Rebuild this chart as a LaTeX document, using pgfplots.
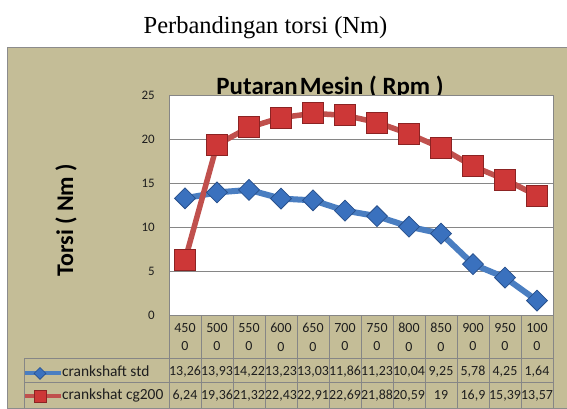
\documentclass[border=0pt]{standalone}
\usepackage{pgfplots}
\pgfplotsset{compat=1.18}
\usepackage{fontspec}
\setmainfont{Carlito}
\newfontfamily\seriffont{Liberation Serif}
\definecolor{khaki}{RGB}{196,189,151}
\definecolor{gridgray}{RGB}{134,134,134}
\definecolor{framegray}{RGB}{140,140,140}
\definecolor{bline}{RGB}{74,126,193}
\definecolor{bmark}{RGB}{58,113,190}
\definecolor{bmarkd}{RGB}{40,80,140}
\definecolor{rline}{RGB}{192,80,77}
\definecolor{rmark}{RGB}{205,55,55}
\definecolor{rmarkd}{RGB}{140,35,35}
\definecolor{txt}{RGB}{30,30,30}
\begin{document}
\begin{tikzpicture}
\begin{scope}[x=1bp,y=1bp]
\path[use as bounding box] (0,0) rectangle (567,403);
\fill[white] (0,0) rectangle (567,403);
\filldraw[fill=khaki, draw=framegray, line width=1bp] (7,-5) rectangle (580,356);
\node[anchor=base, font=\seriffont\fontsize{24.6}{28}\selectfont, inner sep=0pt] at (265.5,370) {Perbandingan torsi (Nm)};
\node[anchor=base, font=\bfseries\fontsize{25}{28}\selectfont, inner sep=0pt] at (330,309) {Putaran\hspace{2bp}Mesin ( Rpm )};
\node[rotate=90, anchor=center, font=\bfseries\fontsize{24}{28}\selectfont, inner sep=0pt] at (66,183) {Torsi ( Nm )};
\end{scope}
\begin{axis}[
  at={(169bp,88bp)}, anchor=south west,
  scale only axis, width=384bp, height=220bp,
  xmin=-0.5, xmax=11.5, ymin=0, ymax=25,
  xtick={0,...,11},
  xticklabels={{450\\0},{500\\0},{550\\0},{600\\0},{650\\0},{700\\0},{750\\0},{800\\0},{850\\0},{900\\0},{950\\0},{100\\0}},
  ytick={0,5,...,25},
  ymajorgrids,
  grid style={draw=gridgray, line width=0.8bp},
  major tick length=0pt,
  axis line style={draw=gridgray, line width=0.8bp},
  axis background/.style={fill=white},
  clip=false,
  /pgf/number format/assume math mode=true,
  yticklabel style={font=\fontsize{13}{15}\selectfont, text=txt, inner sep=0pt, anchor=east, xshift=-14bp},
  xticklabel style={font=\fontsize{14}{18.5}\selectfont, text=txt, align=center, inner sep=0pt, anchor=north, yshift=-8bp},
  legend image code/.code={\draw[mark repeat=2,mark phase=2,#1] plot coordinates {(0bp,0bp) (16bp,0bp) (37bp,0bp)};},
  legend style={draw=none, fill=none, inner sep=0pt, outer sep=0pt,
    at={(axis description cs:-0.3828,-0.236)}, anchor=north west,
    row sep=9.5bp, column sep=-1bp,
    font=\fontsize{15.5}{17}\selectfont, text=txt,
    nodes={inner sep=0pt, text height=10bp, text depth=3bp}},
  legend cell align=left,
]
\addplot[bline, line width=6bp, mark=square*, mark size=7.4bp,
  mark options={rotate=45, fill=bmark, draw=bmarkd, line width=0.8bp, solid}, forget plot]
  coordinates {(0,13.26) (1,13.93) (2,14.22) (3,13.23) (4,13.03) (5,11.86) (6,11.23) (7,10.04) (8,9.25) (9,5.78) (10,4.25) (11,1.64)};
\addplot[rline, line width=5.5bp, mark=square*, mark size=10.5bp,
  mark options={fill=rmark, draw=rmarkd, line width=0.8bp, solid}, forget plot]
  coordinates {(0,6.24) (1,19.36) (2,21.32) (3,22.43) (4,22.91) (5,22.69) (6,21.88) (7,20.59) (8,19) (9,16.9) (10,15.39) (11,13.57)};
\addlegendimage{bline, line width=4bp, mark=square*, mark size=4.2bp, mark options={rotate=45, fill=bmark, draw=bmarkd, line width=0.6bp, solid}}
\addlegendentry{crankshaft std}
\addlegendimage{rline, line width=4bp, mark=square*, mark size=6bp, mark options={fill=rmark, draw=rmarkd, line width=0.6bp, solid}}
\addlegendentry{crankshat cg200}
\end{axis}
\begin{scope}[x=1bp,y=1bp]
\draw[gridgray, line width=0.8bp] (24,45) -- (553,45);
\draw[gridgray, line width=0.8bp] (24,21) -- (553,21);
\draw[gridgray, line width=0.8bp] (24,45) -- (24,-5);
\foreach \k in {0,...,12} { \draw[gridgray, line width=0.8bp] ({169+32*\k},88) -- ({169+32*\k},-5); }
\foreach \v [count=\i from 0] in {{13,26},{13,93},{14,22},{13,23},{13,03},{11,86},{11,23},{10,04},{9,25},{5,78},{4,25},{1,64}}
  { \node[anchor=base, inner sep=0pt, text=txt, font=\fontsize{14}{16}\selectfont] at ({185+32*\i},28) {\v}; }
\foreach \v [count=\i from 0] in {{6,24},{19,36},{21,32},{22,43},{22,91},{22,69},{21,88},{20,59},{19},{16,9},{15,39},{13,57}}
  { \node[anchor=base, inner sep=0pt, text=txt, font=\fontsize{14}{16}\selectfont] at ({185+32*\i},4) {\v}; }
\end{scope}
\end{tikzpicture}
\end{document}
